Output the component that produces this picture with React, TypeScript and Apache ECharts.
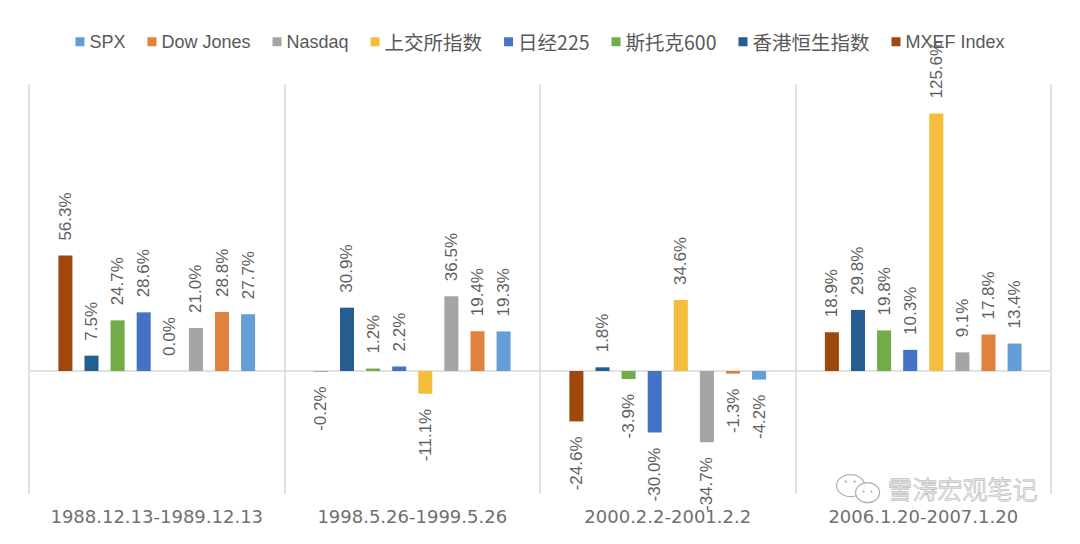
import React, { useEffect, useRef } from "react";
import * as echarts from "echarts";

const categories = [
  "1988.12.13-1989.12.13",
  "1998.5.26-1999.5.26",
  "2000.2.2-2001.2.2",
  "2006.1.20-2007.1.20",
];

const legendOrder = ["SPX", "Dow Jones", "Nasdaq", "上交所指数", "日经225", "斯托克600", "香港恒生指数", "MXEF Index"];

// bars drawn left to right in this order
const mxef = [56.3, -0.2, -24.6, 18.9];
const hangSeng = [7.5, 30.9, 1.8, 29.8];
const stoxx600 = [24.7, 1.2, -3.9, 19.8];
const nikkei225 = [28.6, 2.2, -30.0, 10.3];
const sse = [0.0, -11.1, 34.6, 125.6];
const nasdaq = [21.0, 36.5, -34.7, 9.1];
const dowJones = [28.8, 19.4, -1.3, 17.8];
const spx = [27.7, 19.3, -4.2, 13.4];

const seriesDefs = [
  { name: "MXEF Index", data: mxef, color: "#9E480E" },
  { name: "香港恒生指数", data: hangSeng, color: "#255E91" },
  { name: "斯托克600", data: stoxx600, color: "#70AD47" },
  { name: "日经225", data: nikkei225, color: "#4472C4" },
  { name: "上交所指数", data: sse, color: "#F5BD3C" },
  { name: "Nasdaq", data: nasdaq, color: "#A5A5A5" },
  { name: "Dow Jones", data: dowJones, color: "#E0813F" },
  { name: "SPX", data: spx, color: "#659ED6" },
];

export default function App() {
  const ref = useRef<HTMLDivElement>(null);
  useEffect(() => {
    if (!ref.current) return;
    const chart = echarts.init(ref.current, null, { renderer: "svg" });
    const labelFont = "'Liberation Sans', Arial, sans-serif";
    const series: any[] = seriesDefs.map((s, i) => ({
      name: s.name,
      type: "bar",
      barGap: "86%",
      barCategoryGap: "23%",
      itemStyle: { color: s.color },
      data: s.data.map((v) => ({
        value: v,
        label: {
          show: true,
          rotate: 90,
          position: v < 0 ? "bottom" : "top",
          align: v < 0 ? "right" : "left",
          verticalAlign: "middle",
          distance: 15,
          formatter: () => v.toFixed(1) + "%",
          color: "#5f5f5f",
          fontSize: 17,
          fontFamily: labelFont,
        },
      })),
      markLine:
        i === 0
          ? {
              silent: true,
              symbol: "none",
              label: { show: false },
              lineStyle: { color: "#d9d9d9", width: 1.5, type: "solid" },
              data: [{ yAxis: 0 }],
              z: 1,
            }
          : undefined,
    }));

    const isCjk = (n: string) => /[\u4e00-\u9fff]/.test(n);

    chart.setOption({
      animation: false,
      backgroundColor: "#ffffff",
      legend: {
        data: legendOrder.map((n) => ({
          name: n,
          textStyle: isCjk(n)
            ? { fontSize: 19.5, fontFamily: "'Noto Sans CJK SC', sans-serif" }
            : { fontSize: 18, fontFamily: "'Liberation Sans', sans-serif" },
        })),
        top: 27,
        left: "center",
        itemWidth: 9,
        itemHeight: 9,
        itemGap: 22,
        icon: "rect",
        textStyle: {
          color: "#595959",
          fontSize: 18,
          fontFamily: "'Liberation Sans', 'Noto Sans CJK SC', sans-serif",
        },
      },
      grid: { left: 29, right: 29, top: 84, bottom: 50, containLabel: false },
      xAxis: {
        type: "category",
        data: categories,
        axisLine: { show: false, onZero: false },
        axisTick: { show: false },
        splitLine: { show: true, interval: 0, lineStyle: { color: "#d9d9d9", width: 1.5 } },
        axisLabel: {
          interval: 0,
          hideOverlap: false,
          color: "#707070",
          fontSize: 18,
          margin: 13,
          fontFamily: "'DejaVu Sans', sans-serif",
        },
      },
      yAxis: {
        type: "value",
        min: -60,
        max: 140,
        show: false,
        splitLine: { show: false },
      },
      graphic: [
        {
          type: "group",
          left: 836,
          top: 474,
          z: 100,
          children: [
            { type: "ellipse", shape: { cx: 15, cy: 11, rx: 14, ry: 11 }, style: { fill: "rgba(255,255,255,0.7)", stroke: "#b0b0b0", lineWidth: 1.2 } },
            { type: "circle", shape: { cx: 10, cy: 7, r: 1.2 }, style: { fill: "#b0b0b0" } },
            { type: "circle", shape: { cx: 19, cy: 7, r: 1.2 }, style: { fill: "#b0b0b0" } },
            { type: "ellipse", shape: { cx: 32, cy: 18, rx: 12, ry: 10 }, style: { fill: "rgba(255,255,255,0.85)", stroke: "#b0b0b0", lineWidth: 1.2 } },
            { type: "circle", shape: { cx: 28, cy: 17, r: 1.1 }, style: { fill: "#b0b0b0" } },
            { type: "circle", shape: { cx: 36, cy: 17, r: 1.1 }, style: { fill: "#b0b0b0" } },
          ],
        },
        {
          type: "text",
          left: 887,
          top: 474,
          z: 100,
          style: {
            text: "雪涛宏观笔记",
            fontSize: 25,
            lineHeight: 27,
            fontFamily: "'Noto Sans CJK SC', sans-serif",
            fontWeight: 300,
            fill: "rgba(255,255,255,0.6)",
            stroke: "#a8a8a8",
            lineWidth: 0.8,
          },
        },
      ],
      series,
    });
    return () => chart.dispose();
  }, []);
  return (
    <div
      ref={ref}
      style={{ position: "absolute", left: 0, top: 0, width: 1080, height: 544 }}
    />
  );
}
